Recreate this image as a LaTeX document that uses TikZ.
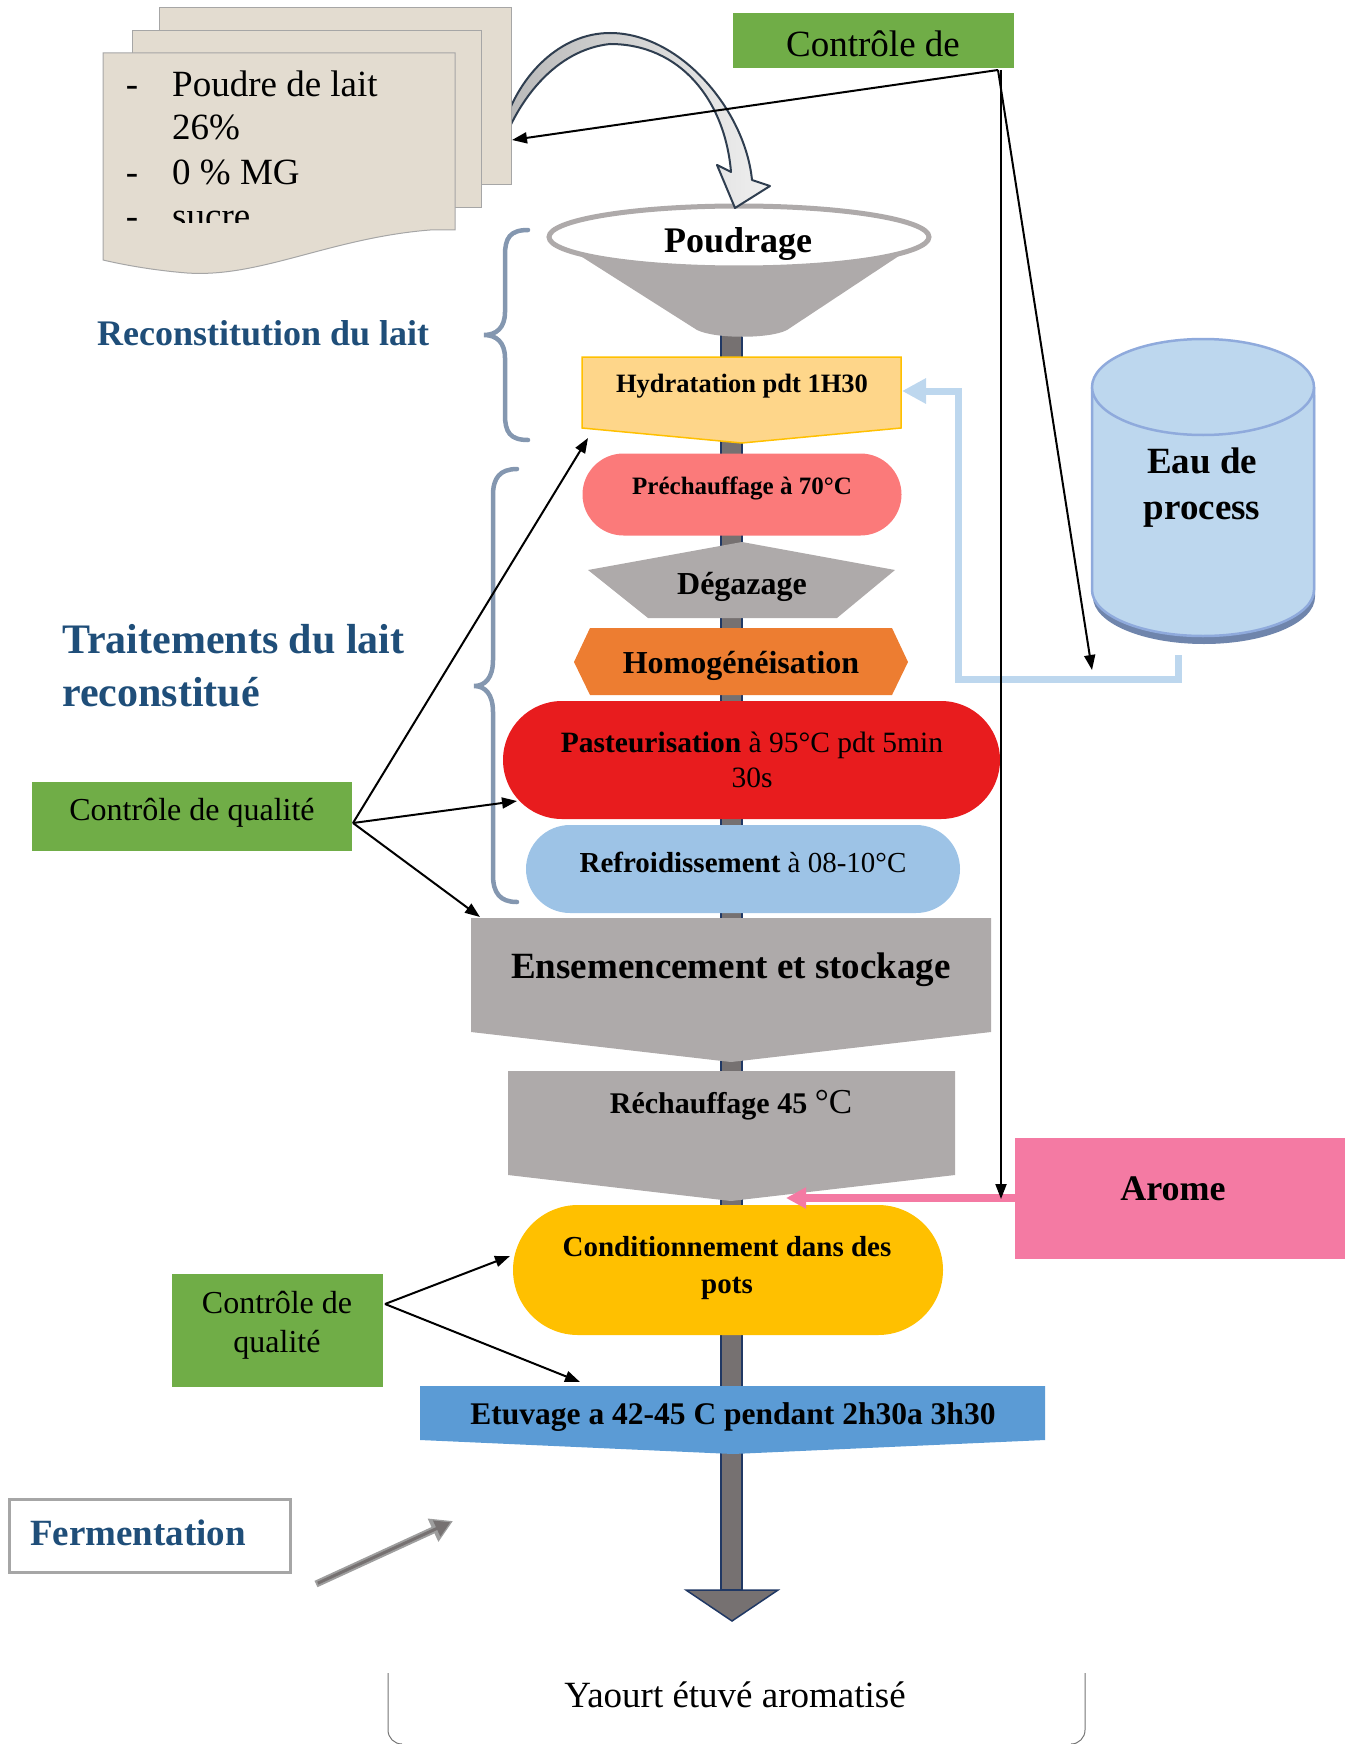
\documentclass[tikz,border=0pt]{standalone}
\usepackage{fontspec}
\setmainfont{Liberation Serif}
\usetikzlibrary{arrows.meta,shapes.geometric,shapes.misc,calc}
\definecolor{grn}{HTML}{70AD47}
\definecolor{gry}{HTML}{AEAAAA}
\definecolor{navy}{HTML}{1F4E79}
\definecolor{brc}{HTML}{8497B0}
\definecolor{paper}{HTML}{E3DCD0}
\definecolor{hyd}{HTML}{FED68A}
\definecolor{hydb}{HTML}{FFC000}
\definecolor{pre}{HTML}{FB7A7A}
\definecolor{homo}{HTML}{ED7D31}
\definecolor{past}{HTML}{E81C1E}
\definecolor{refr}{HTML}{9DC3E6}
\definecolor{cond}{HTML}{FFC000}
\definecolor{etu}{HTML}{5B9BD5}
\definecolor{arome}{HTML}{F47AA3}
\definecolor{eau}{HTML}{BDD7EE}
\definecolor{eaub}{HTML}{8FAADC}
\definecolor{barc}{HTML}{767171}
\definecolor{barb}{HTML}{203864}
\definecolor{arrb}{HTML}{2F3E50}
\newcommand\myfs[2]{\fontsize{#1}{#2}\selectfont}
\begin{document}
\begin{tikzpicture}[x=1pt,y=-1pt,
  txt/.style={inner sep=0pt, anchor=base},
  arr/.style={-{Triangle[length=15pt,width=11pt]}, line width=2pt, draw=black},
  bracestyle/.style={draw=brc, line width=4.5pt, line cap=round},
  sheet/.style={fill=paper, draw=black!35, line width=1pt},
  ctrl/.style={fill=grn, draw=none, inner sep=0pt},
  gshape/.style={fill=gry, draw=none},
]
\useasboundingbox (0,0) rectangle (1352,1744);

% ---------- central bar ----------
\draw[fill=barc, draw=barb, line width=1.5pt] (721,330) rectangle (742,1590);
\draw[fill=barc, draw=barb, line width=1.5pt] (686,1590) -- (778,1590) -- (732,1621) -- cycle;

% ---------- funnel ----------
\fill[gry] (549,236) -- (697,330) .. controls (715,339) and (770,339) .. (787,330) -- (929,236) -- cycle;
\node[ellipse, fill=white, draw=gry, line width=5pt, minimum width=380pt, minimum height=62pt, inner sep=0pt] (funnel) at (739,237) {};
\node[txt, font=\myfs{36}{42}\bfseries] (poudrage) at (738,252) {Poudrage};

% ---------- curved arrow ----------
\draw[left color=gray!55, right color=gray!12, draw=arrb, line width=2pt, line join=round]
  (505,122) .. controls (520,75) and (560,33) .. (610,33)
  .. controls (680,33) and (745,110) .. (752,180)
  -- (770,186) -- (735,208) -- (717,165) -- (731,172)
  .. controls (725,100) and (680,44) .. (610,44)
  .. controls (555,50) and (520,100) .. (505,138) -- cycle;

% ---------- paper stack ----------
\draw[sheet] (159,8) rectangle (511,185);
\draw[sheet] (132,31) rectangle (481,208);
\draw[sheet] (103,53) -- (455,53) -- (455,230) -- (430,230)
  .. controls (330,238) and (260,278) .. (187,273)
  .. controls (150,270) and (120,264) .. (103,260) -- cycle;
\coordinate (paperR) at (512,140);
\begin{scope}
\clip (103,53) rectangle (455,223);
\node[txt, font=\myfs{37}{44}] (d1) at (132,97) {-};
\node[txt, font=\myfs{37}{44}, anchor=base west] (l1) at (172,97) {Poudre de lait};
\node[txt, font=\myfs{37}{44}, anchor=base west] (l2) at (172,140) {26\%};
\node[txt, font=\myfs{37}{44}] (d3) at (132,185) {-};
\node[txt, font=\myfs{37}{44}, anchor=base west] (l3) at (172,185) {0 \% MG};
\node[txt, font=\myfs{37}{44}] (d4) at (132,229) {-};
\node[txt, font=\myfs{37}{44}, anchor=base west] (l4) at (172,229) {sucre};
\end{scope}

% ---------- top control ----------
\node[ctrl, minimum width=281pt, minimum height=55pt] (cq1) at (873.5,40.5) {};
\node[txt, font=\myfs{37}{44}] (cq1t) at (873,57) {Contrôle de};
\coordinate (cq1o) at (998,70);
\coordinate (cq1v) at (1001,70);

% ---------- braces & labels ----------
\draw[bracestyle] (528,230) .. controls (510,230) and (505,238) .. (505,255) -- (505,312)
  .. controls (505,328) and (496,335) .. (484,335)
  .. controls (496,335) and (505,342) .. (505,358) -- (505,415)
  .. controls (505,432) and (510,440) .. (528,440);
\draw[bracestyle] (517,469) .. controls (500,469) and (493,478) .. (493,495) -- (493,660)
  .. controls (493,678) and (485,686) .. (474,686)
  .. controls (485,686) and (493,694) .. (493,712) -- (493,875)
  .. controls (493,893) and (500,902) .. (517,902);
\node[txt, font=\myfs{36}{42}\bfseries, text=navy, anchor=base west] (reco) at (97,345) {Reconstitution du lait};
\node[txt, font=\myfs{42}{53}\bfseries, text=navy, anchor=base west] (trait1) at (62,653) {Traitements du lait};
\node[txt, font=\myfs{42}{53}\bfseries, text=navy, anchor=base west] (trait2) at (62,706) {reconstitué};

% ---------- water pipe ----------
\draw[eau, line width=7pt, line join=miter, -{Triangle[length=24pt,width=24pt]}]
  (1178,655) -- (1178,679) -- (958,679) -- (958,391) -- (902,391);

% ---------- Eau de process cylinder ----------
\fill[black!22!eaub] (1093,395) -- (1093,597) arc[start angle=180, end angle=0, x radius=111, y radius=47] -- (1315,395) -- cycle;
\draw[fill=eau, draw=eaub, line width=2.5pt] (1092,387) -- (1092,590) arc[start angle=180, end angle=0, x radius=111, y radius=46] -- (1314,387);
\node[ellipse, fill=eau, draw=eaub, line width=2.5pt, minimum width=222pt, minimum height=96pt, inner sep=0pt] (eau) at (1203,387) {};
\node[txt, font=\myfs{37}{46}\bfseries] (eau1) at (1202,473) {Eau de};
\node[txt, font=\myfs{37}{46}\bfseries] (eau2) at (1202,519) {process};
\coordinate (eauin) at (1092,670);

% ---------- process nodes ----------
% Hydratation
\path[fill=hyd, draw=hydb, line width=1.5pt] (582,357) -- (901,357) -- (901,428) -- (742,443) -- (582,428) -- cycle;
\node[txt, font=\myfs{26.5}{32}\bfseries] (hyd) at (742,392) {Hydratation pdt 1H30};
\coordinate (hydin) at (588,438);
% Prechauffage
\node[rounded rectangle, fill=pre, minimum width=319pt, minimum height=82pt, inner sep=0pt] (preS) at (742,494.5) {};
\node[txt, font=\myfs{25}{30}\bfseries] (pre) at (742,494) {Préchauffage à 70°C};
% Degazage
\path[gshape] (742,542) -- (895,570) -- (837,618) -- (648,618) -- (588,570) -- cycle;
\node[txt, font=\myfs{32}{38}\bfseries] (deg) at (742,594) {Dégazage};
% Homogeneisation
\path[fill=homo] (590,628) -- (892,628) -- (908,662) -- (892,695) -- (590,695) -- (574,662) -- cycle;
\node[txt, font=\myfs{32}{38}\bfseries] (homo) at (741,673) {Homogénéisation};
% Pasteurisation
\node[rounded rectangle, fill=past, minimum width=497pt, minimum height=118pt, inner sep=0pt] (pastS) at (751.5,760) {};
\node[txt, font=\myfs{29.5}{35}] (past1) at (752,752) {\textbf{Pasteurisation} à 95°C pdt 5min};
\node[txt, font=\myfs{29.5}{35}] (past2) at (752,787) {30s};
\coordinate (pastin) at (517,801);
% Refroidissement
\node[rounded rectangle, fill=refr, minimum width=434pt, minimum height=88pt, inner sep=0pt] (refS) at (743,869) {};
\node[txt, font=\myfs{29}{35}] (ref) at (743,872) {\textbf{Refroidissement} à 08-10°C};
% Ensemencement
\path[gshape] (471,918) -- (991,918) -- (991,1032) -- (731,1062) -- (471,1032) -- cycle;
\node[txt, font=\myfs{37}{44}\bfseries] (ens) at (731,978) {Ensemencement et stockage};
\coordinate (ensin) at (480,917);
% Rechauffage
\path[gshape] (508,1071) -- (955,1071) -- (955,1175) -- (731,1201) -- (508,1175) -- cycle;
\node[txt, font=\myfs{30}{36}] (rech) at (731,1113) {\textbf{Réchauffage 45} {\myfs{35}{40}°C}};
% Conditionnement
\node[rounded rectangle, fill=cond, minimum width=430pt, minimum height=130pt, inner sep=0pt] (condS) at (728,1270) {};
\node[txt, font=\myfs{29}{37}\bfseries] (cond1) at (727,1256) {Conditionnement dans des};
\node[txt, font=\myfs{29}{37}\bfseries] (cond2) at (727,1293) {pots};
\coordinate (condin) at (510,1256);
% Etuvage
\path[fill=etu] (420,1386) -- (1045,1386) -- (1045,1440) -- (733,1454) -- (420,1440) -- cycle;
\node[txt, font=\myfs{31.5}{38}\bfseries] (etu) at (733,1424) {Etuvage a 42-45 C pendant 2h30a 3h30};
\coordinate (etuin) at (580,1382);

% ---------- Arome ----------
\node[rectangle, fill=arome, minimum width=330pt, minimum height=121pt, inner sep=0pt] (aromeS) at (1180,1198.5) {};
\node[txt, font=\myfs{36}{42}\bfseries] (arome) at (1173,1200) {Arome};
\coordinate (aromein) at (786,1198);
\coordinate (vend) at (1001,1199);
\draw[arome, line width=8pt, -{Triangle[length=20pt,width=20pt]}] (aromeS.west |- aromein) -- (aromein);

% ---------- top control connectors ----------
\draw[arr] (cq1o) -- (paperR);
\draw[arr] (cq1o) -- (eauin);
\draw[arr] (cq1v) -- (vend);

% ---------- middle control ----------
\node[ctrl, minimum width=320pt, minimum height=69pt] (cq2) at (192,816.5) {};
\node[txt, font=\myfs{32}{39}] (cq2t) at (192,820) {Contrôle de qualité};
\coordinate (cq2o) at (353,823);
\draw[arr] (cq2o) -- (hydin);
\draw[arr] (cq2o) -- (pastin);
\draw[arr] (cq2o) -- (ensin);

% ---------- bottom control ----------
\node[ctrl, minimum width=211pt, minimum height=113pt] (cq3) at (277.5,1330) {};
\node[txt, font=\myfs{32}{39}] (cq3a) at (277,1313) {Contrôle de};
\node[txt, font=\myfs{32}{39}] (cq3b) at (277,1352) {qualité};
\coordinate (cq3o) at (385,1304);
\draw[arr] (cq3o) -- (condin);
\draw[arr] (cq3o) -- (etuin);

% ---------- Fermentation ----------
\node[rectangle, draw=black!35, line width=3pt, fill=white, minimum width=281pt, minimum height=73pt, inner sep=0pt] (fermS) at (149.5,1535.5) {};
\node[txt, font=\myfs{37}{44}\bfseries, text=navy, anchor=base west] (ferm) at (30,1545) {Fermentation};
\coordinate (fa) at (316,1584);
\coordinate (fb) at (453,1521);
\draw[black!38, line width=7pt, -{Triangle[length=22pt,width=24pt]}] (fa) -- (fb);
\draw[barc, line width=3pt, shorten >=3pt, shorten <=2pt, -{Triangle[length=15pt,width=17pt]}] (fa) -- (fb);

% ---------- Yaourt ----------
\draw[black!55, line width=1pt] (388,1673) -- (388,1730) to[out=-90,in=180] (402,1744);
\draw[black!55, line width=1pt] (1085,1673) -- (1085,1730) to[out=-90,in=0] (1071,1744);
\node[txt, font=\myfs{37}{44}] (yaourt) at (735,1707) {Yaourt étuvé aromatisé};
\end{tikzpicture}
\end{document}
